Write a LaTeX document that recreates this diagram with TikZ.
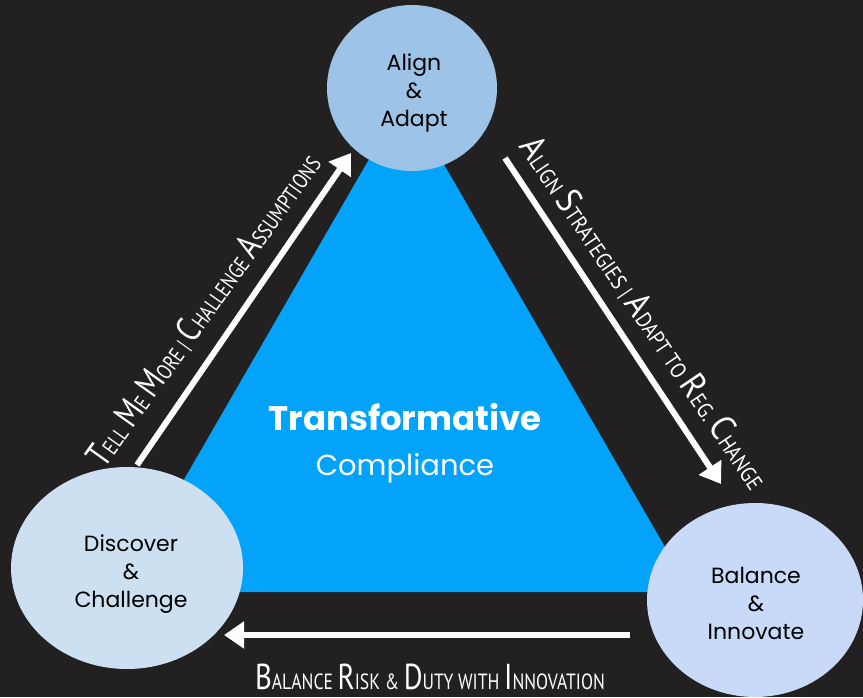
\documentclass[tikz,border=0pt]{standalone}
\usepackage{fontspec}
\setmainfont{Poppins}
\newfontfamily\handfont{PT Sans}
\usetikzlibrary{shapes.geometric,arrows.meta,calc}
\definecolor{board}{HTML}{232021}
\definecolor{triblue}{HTML}{03A3FA}
\definecolor{alignfill}{HTML}{9DC3E6}
\definecolor{discfill}{HTML}{CCE0F2}
\definecolor{balfill}{HTML}{C8DAF7}
% hand-lettered small caps: big initial, smaller rest
\newcommand\hsc[2]{{\fontsize{36}{36}\selectfont #1}{\fontsize{22}{22}\selectfont #2}}
\newcommand\hsm[1]{{\fontsize{22}{22}\selectfont #1}}
\newcommand\handline[2][0.8]{\scalebox{#1}[1]{\fontsize{22}{22}\selectfont #2}}
\tikzset{
  phase/.style={ellipse, inner sep=0pt, draw=none},
  phasetext/.style={align=center, text=black, font=\fontsize{22}{28}\selectfont},
  flow/.style={white, line width=6pt, -{Triangle[width=26pt,length=20pt]}},
  hand/.style={text=white, font=\handfont, inner sep=0pt},
}
\begin{document}
\begin{tikzpicture}[x=1pt,y=-1pt]
  % board
  \fill[board] (0,0) rectangle (863,697);
  \useasboundingbox (0,0) rectangle (863,697);

  % central triangle
  \fill[triblue] (119,592) -- (405,97) -- (691,592) -- cycle;
  \node[text=white, align=center, inner sep=0pt] (core) at (405,443)
    {{\fontsize{34}{40}\selectfont\bfseries Transformative}\\[22pt]
     {\fontsize{29}{34}\selectfont Compliance}};

  % arrow end points
  \coordinate (lt) at (137,465);
  \coordinate (lh) at (351,153);
  \coordinate (rt) at (505,158);
  \coordinate (rh) at (721,484);
  \coordinate (bt) at (630,635);
  \coordinate (bh) at (224,635);
  \draw[flow] (lt) -- (lh);
  \draw[flow] (rt) -- (rh);
  \draw[flow] (bt) -- (bh);

  % phases
  \node[phase, fill=alignfill, minimum width=170pt, minimum height=166pt] (align) at (412,88) {};
  \node[phase, fill=discfill, minimum width=232pt, minimum height=202pt] (disc) at (127,568) {};
  \node[phase, fill=balfill, minimum width=216pt, minimum height=194pt] (bal) at (755,600) {};
  \node[phasetext] (alignT) at (414,93) {Align\\\&\\Adapt};
  \node[phasetext] (discT) at (131,574) {Discover\\\&\\Challenge};
  \node[phasetext] (balT) at (756,603) {Balance\\\&\\Innovate};

  % arrow captions
  \node[hand, rotate=54.5] (lcap) at (204,310)
    {\handline{\hsc{T}{ELL} \hsc{M}{E} \hsc{M}{ORE} \hsm{|} \hsc{C}{HALLENGE} \hsc{A}{SSUMPTIONS}}};
  \node[hand, rotate=-56] (rcap) at (644,313)
    {\handline[0.89]{\hsc{A}{LIGN} \hsc{S}{TRATEGIES} \hsm{|} \hsc{A}{DAPT} \hsm{TO} \hsc{R}{EG}. \hsc{C}{HANGE}}};
  \node[hand, anchor=base] (bcap) at (430,689)
    {\handline{\hsc{B}{ALANCE} \hsc{R}{ISK} \hsm{\&} \hsc{D}{UTY} \hsm{WITH} \hsc{I}{NNOVATION}}};
\end{tikzpicture}
\end{document}
